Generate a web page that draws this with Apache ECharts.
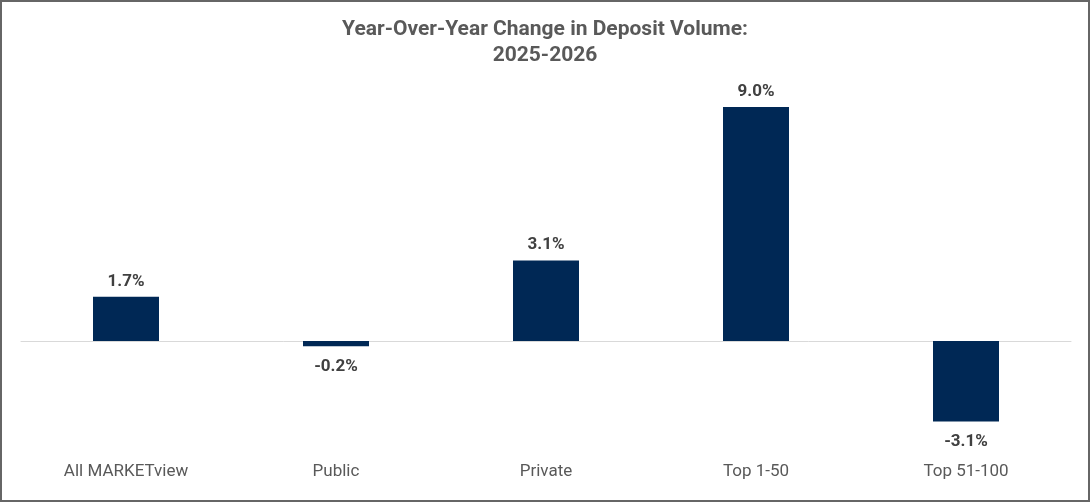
<!DOCTYPE html>
<html>
<head>
<meta charset="utf-8">
<script src="https://cdn.jsdelivr.net/npm/echarts@6/dist/echarts.min.js"></script>
<style>
html, body { margin: 0; padding: 0; background: #fff; }
#chart { width: 1090px; height: 502px; box-sizing: border-box; border: 2px solid #666; }
</style>
</head>
<body>
<div id="chart"></div>
<script>
// 存款量同比变化
var categories = ['All MARKETview', 'Public', 'Private', 'Top 1-50', 'Top 51-100'];
var changes = [1.7, -0.2, 3.1, 9.0, -3.1];

// 负值标签离柱子远一点
var barData = changes.map(function(v) {
    return { value: v, label: { distance: v < 0 ? 12 : 7 } };
});

var myChart = echarts.init(document.getElementById('chart'));
var option = {
    backgroundColor: '#fff',
    animation: false,
    title: {
        text: 'Year-Over-Year Change in Deposit Volume:\n2025-2026',
        left: 'center',
        top: 10,
        textStyle: {
            fontFamily: 'Roboto',
            fontWeight: 'bold',
            fontSize: 21,
            lineHeight: 26,
            color: '#595959'
        }
    },
    grid: {
        left: 19,
        right: 17,
        top: 79,
        bottom: 55
    },
    xAxis: {
        type: 'category',
        data: categories,
        axisLine: {
            onZero: true,
            lineStyle: { color: '#d9d9d9', width: 1 }
        },
        axisTick: { show: false },
        axisLabel: {
            interval: 0,
            margin: 18,
            fontFamily: 'Roboto',
            fontSize: 17,
            color: '#595959'
        }
    },
    yAxis: {
        type: 'value',
        min: -4,
        max: 10,
        show: false,
        splitLine: { show: false }
    },
    series: [{
        type: 'bar',
        data: barData,
        barWidth: 66,
        itemStyle: { color: '#002855' },
        label: {
            show: true,
            position: 'outside',
            distance: 7,
            fontFamily: 'Roboto',
            fontWeight: 'bold',
            fontSize: 17,
            color: '#404040',
            formatter: function(params) {
                return params.value.toFixed(1) + '%';
            }
        }
    }]
};
myChart.setOption(option);
</script>
</body>
</html>
